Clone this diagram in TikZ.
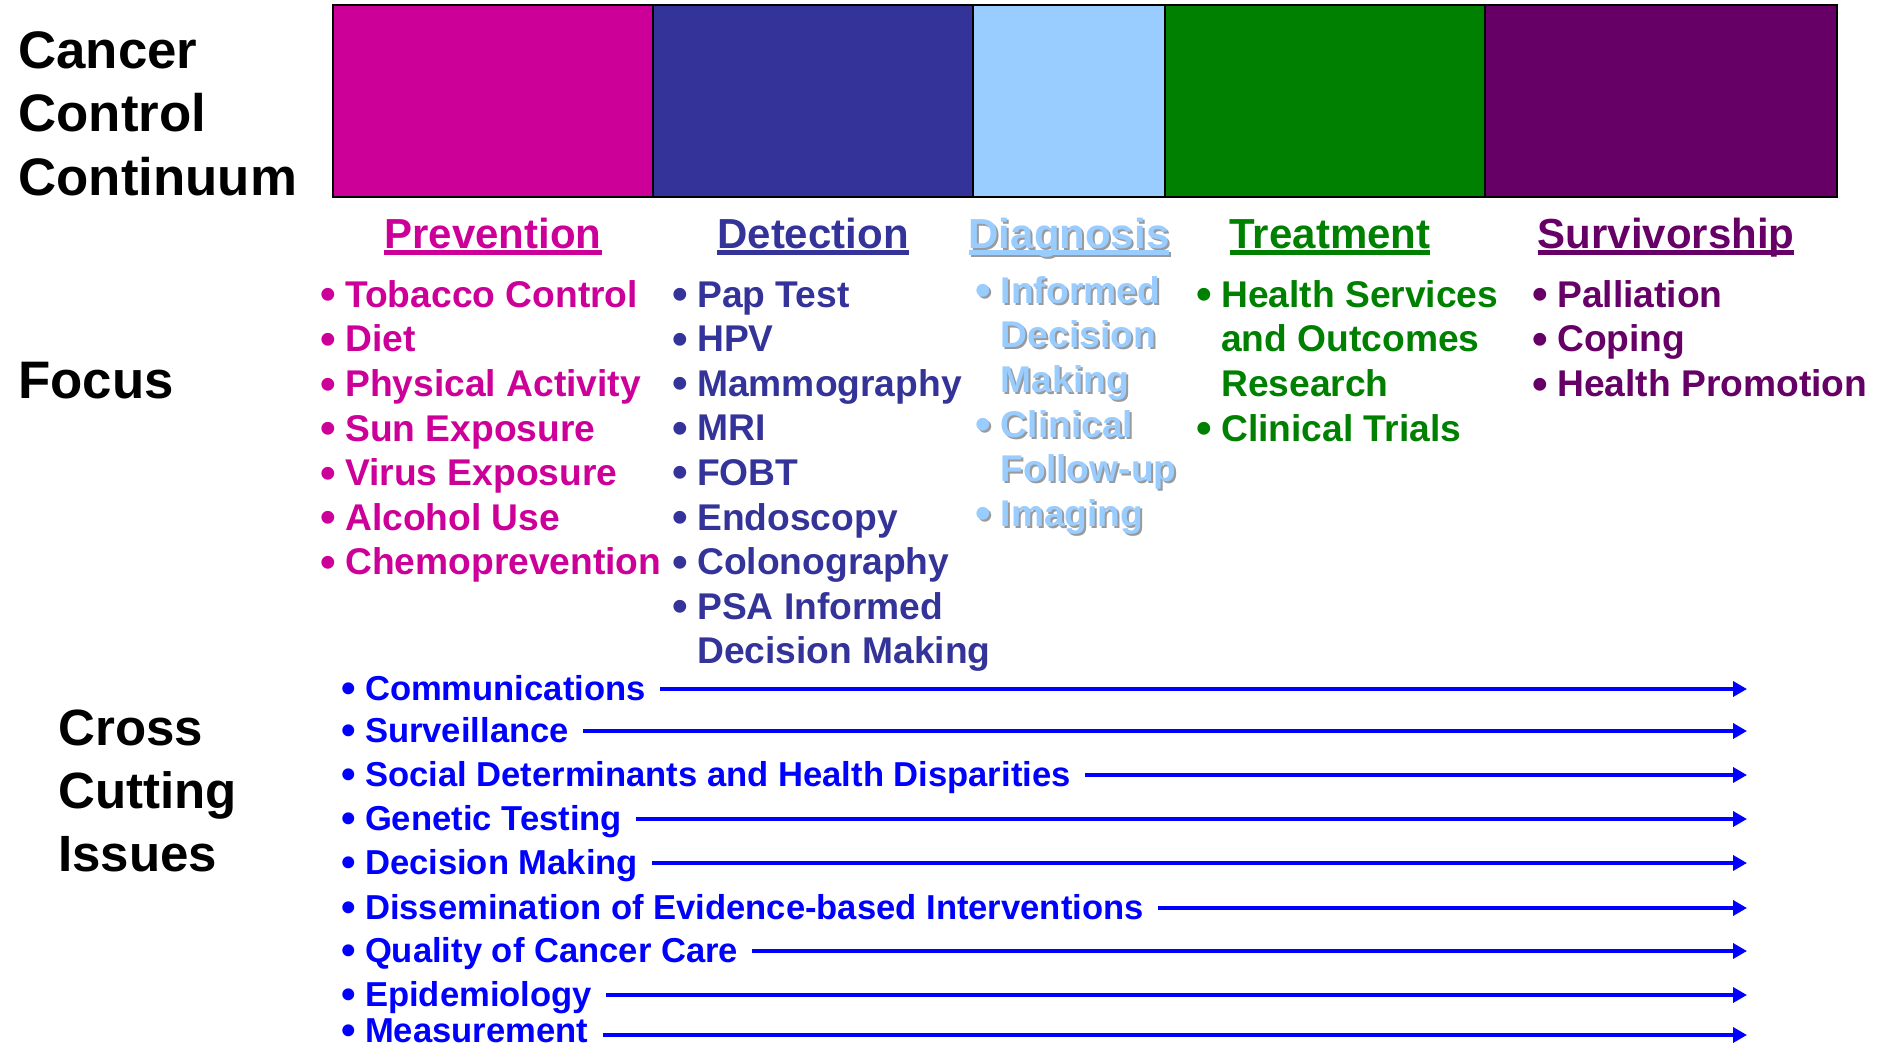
\documentclass[tikz,border=0pt]{standalone}
\usepackage{fontspec}
\setmainfont{Liberation Sans}
\usetikzlibrary{arrows.meta, positioning, calc}

\definecolor{preventionColor}{HTML}{CC0099}
\definecolor{detectionColor}{HTML}{333399}
\definecolor{diagnosisColor}{HTML}{99CCFF}
\definecolor{treatmentColor}{HTML}{008000}
\definecolor{survivorColor}{HTML}{660066}
\definecolor{crossColor}{HTML}{0000FF}
\definecolor{shadowGray}{HTML}{9A9A9A}

\newcommand{\bul}{\makebox[0.64em][l]{\hspace{-0.035em}\raisebox{-0.068em}{\scalebox{1.2}{\textbullet}}}}
\newcommand{\nobul}{\hspace*{0.64em}}
\newcommand{\ulhead}[1]{\setbox0\hbox{#1}\rlap{\rule[-3.7pt]{\wd0}{2.5pt}}\box0}

\begin{document}
\begin{tikzpicture}[x=0.5pt, y=-0.5pt,
    every node/.style={inner sep=0pt, font=\bfseries},
    bar/.style={draw=black, line width=1pt, minimum height=96pt, outer sep=0pt, anchor=north west},
    sideLabel/.style={font=\bfseries\fontsize{26.4pt}{31.75pt}\selectfont, align=left, anchor=north west},
    heading/.style={font=\bfseries\fontsize{21pt}{25pt}\selectfont, anchor=base},
    focusList/.style={font=\bfseries\fontsize{18.6pt}{22.3pt}\selectfont, align=left, anchor=north west},
    crossItem/.style={font=\bfseries\fontsize{17.3pt}{21pt}\selectfont, text=crossColor, anchor=base west},
    crossArrow/.style={draw=crossColor, line width=1.8pt, -{Triangle[length=7pt, width=7.5pt]}, shorten <=7pt},
    diagShadow/.style={text=shadowGray, xshift=1pt, yshift=-1pt}]
    \useasboundingbox (0,0) rectangle (1880,1049);

    % Define the continuum bar
    \node[bar, minimum width=160pt, fill=preventionColor] (prevBar) at (333,5) {};
    \node[bar, minimum width=160pt, fill=detectionColor, right=0pt of prevBar] (detBar) {};
    \node[bar, minimum width=96pt, fill=diagnosisColor, right=0pt of detBar] (diagBar) {};
    \node[bar, minimum width=160pt, fill=treatmentColor, right=0pt of diagBar] (treatBar) {};
    \node[bar, minimum width=176pt, fill=survivorColor, right=0pt of treatBar] (survBar) {};

    % Labels on the left side
    \node[sideLabel] (continuumLabel) at (18,31) {Cancer\\Control\\Continuum};
    \node[sideLabel, anchor=base west] (focusLabel) at (18,398) {Focus};
    \node[sideLabel, font=\bfseries\fontsize{25.5pt}{31.5pt}\selectfont] (crossLabel) at (58,709) {Cross\\Cutting\\Issues};

    % Headings under the bar
    \node[heading, text=preventionColor] (prevHead) at ([yshift=-25.5pt]prevBar.south) {\ulhead{Prevention}};
    \node[heading, text=detectionColor] (detHead) at ([yshift=-25.5pt]detBar.south) {\ulhead{Detection}};
    \node[heading, diagShadow] (diagHeadShadow) at ([yshift=-25.5pt]diagBar.south) {\ulhead{Diagnosis}};
    \node[heading, text=diagnosisColor] (diagHead) at ([yshift=-25.5pt]diagBar.south) {\ulhead{Diagnosis}};
    \node[heading, text=treatmentColor] (treatHead) at ([xshift=2.5pt, yshift=-25.5pt]treatBar.south) {\ulhead{Treatment}};
    \node[heading, text=survivorColor] (survHead) at ([xshift=2.5pt, yshift=-25.5pt]survBar.south) {\ulhead{Survivorship}};

    % Focus lists
    \node[focusList, text=preventionColor] (prevList) at (321,280) {\bul Tobacco Control\\ \bul Diet\\ \bul Physical Activity\\ \bul Sun Exposure\\ \bul Virus Exposure\\ \bul Alcohol Use\\ \bul Chemoprevention};
    \node[focusList, text=detectionColor] (detList) at (673,281) {\bul Pap Test\\ \bul HPV\\ \bul Mammography\\ \bul MRI\\ \bul FOBT\\ \bul Endoscopy\\ \bul Colonography\\ \bul PSA Informed\\ \nobul Decision Making};
    \node[focusList, diagShadow] (diagListShadow) at (976.6,276) {\bul Informed\\ \nobul Decision\\ \nobul Making\\ \bul Clinical\\ \nobul Follow-up\\ \bul Imaging};
    \node[focusList, text=diagnosisColor] (diagList) at (976.6,276) {\bul Informed\\ \nobul Decision\\ \nobul Making\\ \bul Clinical\\ \nobul Follow-up\\ \bul Imaging};
    \node[focusList, text=treatmentColor] (treatList) at (1197,280) {\bul Health Services\\ \nobul and Outcomes\\ \nobul Research\\ \bul Clinical Trials};
    \node[focusList, text=survivorColor] (survList) at (1533,280) {\bul Palliation\\ \bul Coping\\ \bul Health Promotion};

    % Cross cutting issues
    \node[crossItem] (comm) at (342.5,700) {\bul Communications};
    \node[crossItem] (surv) at (342.5,742) {\bul Surveillance};
    \node[crossItem] (social) at (342.5,786) {\bul Social Determinants and Health Disparities};
    \node[crossItem] (genetic) at (342.5,830) {\bul Genetic Testing};
    \node[crossItem] (decision) at (342.5,874) {\bul Decision Making};
    \node[crossItem] (dissem) at (342.5,919) {\bul Dissemination of Evidence-based Interventions};
    \node[crossItem] (quality) at (342.5,962) {\bul Quality of Cancer Care};
    \node[crossItem] (epi) at (342.5,1006) {\bul Epidemiology};
    \node[crossItem] (measure) at (342.5,1042) {\bul Measurement};

    % Arrows run to the right end
    \coordinate (arrowEnd) at (1747,0);
    \draw[crossArrow] ($(comm.base east)+(0,-11)$) -- ($(comm.base east -| arrowEnd)+(0,-11)$);
    \draw[crossArrow] ($(surv.base east)+(0,-11)$) -- ($(surv.base east -| arrowEnd)+(0,-11)$);
    \draw[crossArrow] ($(social.base east)+(0,-11)$) -- ($(social.base east -| arrowEnd)+(0,-11)$);
    \draw[crossArrow] ($(genetic.base east)+(0,-11)$) -- ($(genetic.base east -| arrowEnd)+(0,-11)$);
    \draw[crossArrow] ($(decision.base east)+(0,-11)$) -- ($(decision.base east -| arrowEnd)+(0,-11)$);
    \draw[crossArrow] ($(dissem.base east)+(0,-11)$) -- ($(dissem.base east -| arrowEnd)+(0,-11)$);
    \draw[crossArrow] ($(quality.base east)+(0,-11)$) -- ($(quality.base east -| arrowEnd)+(0,-11)$);
    \draw[crossArrow] ($(epi.base east)+(0,-11)$) -- ($(epi.base east -| arrowEnd)+(0,-11)$);
    \draw[crossArrow] ($(measure.base east)+(0,-7)$) -- ($(measure.base east -| arrowEnd)+(0,-7)$);
\end{tikzpicture}
\end{document}
